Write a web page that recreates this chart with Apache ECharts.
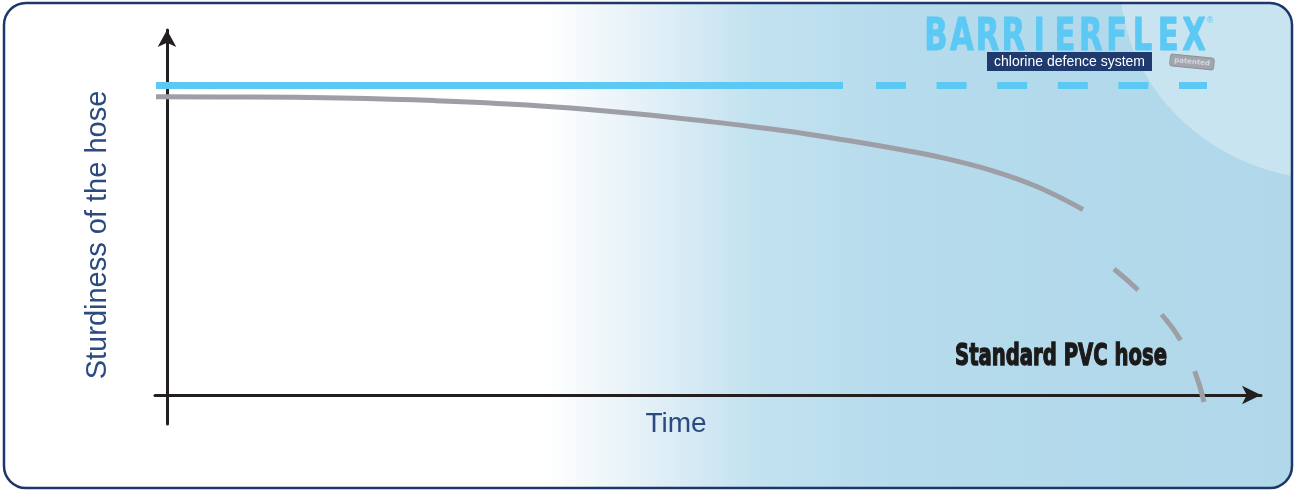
<!DOCTYPE html>
<html>
<head>
<meta charset="utf-8">
<script src="https://cdn.jsdelivr.net/npm/echarts@6/dist/echarts.min.js"></script>
<style>
html,body{margin:0;padding:0;background:#fff;}
#chart{width:1294px;height:490px;}
</style>
</head>
<body>
<div id="chart"></div>
<script>
// ---- data (arbitrary units: time on x, sturdiness on y) ----
const barrierSolidX = [-1.1, 67.6];
const barrierSolidY = [77.4, 77.4];
const barrierDashX = [70.9, 104.0];
const barrierDashY = [77.4, 77.4];

const pvcSolidX = [-1.1, 8.17, 17.44, 26.71, 35.98, 45.25, 54.52, 59.16, 63.79, 68.43, 73.06, 77.7, 82.33, 86.97, 91.6];
const pvcSolidY = [74.55, 74.5, 74.23, 73.6, 72.5, 70.68, 68.28, 66.88, 65.33, 63.5, 61.48, 59.23, 56.23, 52.13, 46.38];
const pvcDashX = [94.7, 97.1, 99.5, 101.4, 102.8, 103.7];
const pvcDashY = [31.5, 26.25, 20.0, 13.5, 5.75, -1.75];

const xAxisName = 'Time';
const yAxisName = 'Sturdiness of the hose';
const pvcLabel = 'Standard PVC hose';
const logoWord = 'BARRIERFLEX';
const logoTagline = 'chlorine defence system';
const stampText = 'patented';

const zip = (xs, ys) => xs.map((x, i) => [x, ys[i]]);

const chart = echarts.init(document.getElementById('chart'), null, {renderer: 'canvas'});

const logoLetters = logoWord.split('').map((ch, i) => ({
  type: 'text',
  x: 936 + i * 25.8,
  y: 38,
  scaleX: 0.68,
  z: 5,
  style: {
    text: ch, x: 0, y: 0,
    align: 'center', verticalAlign: 'middle',
    font: 'bold 45px "DejaVu Sans"',
    fill: '#5bc9f3', stroke: '#5bc9f3', lineWidth: 1
  }
}));

const option = {
  animation: false,
  grid: {left: 155, right: 33, top: 30, bottom: 66, containLabel: false, outerBoundsMode: 'none'},
  xAxis: {
    type: 'value', min: -1.2, max: 109.4,
    axisLine: {show: true, onZero: true, symbol: ['none', 'arrow'], symbolSize: [14, 19],
      lineStyle: {color: '#231f20', width: 3}},
    axisTick: {show: false}, axisLabel: {show: false}, splitLine: {show: false},
    name: xAxisName, nameLocation: 'middle', nameGap: -14,
    nameTextStyle: {fontSize: 28, color: '#2b4a7f', fontFamily: 'Liberation Sans', padding: [0, 64, 0, 0], verticalAlign: 'top'}
  },
  yAxis: {
    type: 'value', min: -7.25, max: 91.25,
    axisLine: {show: true, onZero: true, symbol: ['none', 'arrow'], symbolSize: [14, 17],
      lineStyle: {color: '#231f20', width: 3}},
    axisTick: {show: false}, axisLabel: {show: false}, splitLine: {show: false},
    name: yAxisName, nameLocation: 'middle', nameGap: 43,
    nameTextStyle: {fontSize: 29, color: '#2b4a7f', fontFamily: 'Liberation Sans', padding: [0, 16, 0, 0]}
  },
  graphic: [
    {
      type: 'rect', z: -10,
      shape: {x: 4, y: 3, width: 1288, height: 485, r: 22},
      style: {
        fill: new echarts.graphic.LinearGradient(0, 0, 1, 0, [
          {offset: 0, color: '#ffffff'},
          {offset: 0.42, color: '#ffffff'},
          {offset: 0.5, color: '#e3f0f7'},
          {offset: 0.58, color: '#c3e2f0'},
          {offset: 0.7, color: '#b5dbec'},
          {offset: 1, color: '#b0d8ea'}
        ])
      }
    },
    {
      type: 'ellipse', z: -9,
      shape: {cx: 1335, cy: -20, rx: 215, ry: 200},
      style: {fill: 'rgba(255,255,255,0.3)'}
    },
    {
      type: 'rect', z: -8,
      shape: {x: 4, y: 3, width: 1288, height: 485, r: 22},
      style: {fill: 'none', stroke: '#1d3769', lineWidth: 2.5}
    },
    ...logoLetters,
    {
      type: 'text', z: 5, x: 1210, y: 21,
      style: {text: '®', x: 0, y: 0, align: 'center', verticalAlign: 'middle', font: '8px "DejaVu Sans"', fill: '#5bc9f3'}
    },
    {
      type: 'rect', z: 5,
      shape: {x: 987, y: 52, width: 165, height: 19},
      style: {fill: '#1e3a6e'}
    },
    {
      type: 'text', z: 6, x: 1069.5, y: 62,
      style: {text: logoTagline, x: 0, y: 0, align: 'center', verticalAlign: 'middle',
        font: '14px "Liberation Sans"', fill: '#ffffff'}
    },
    {
      type: 'group', z: 5, x: 1192, y: 62, rotation: -0.1,
      children: [
        {type: 'rect', shape: {x: -22, y: -6, width: 44, height: 12, r: 3},
          style: {fill: '#a3a5ad', stroke: '#8e9099', lineWidth: 1}},
        {type: 'text', style: {text: stampText, x: 0, y: 0, align: 'center', verticalAlign: 'middle',
          font: 'bold 7px "DejaVu Sans"', fill: '#d6d8de'}}
      ]
    },
    {
      type: 'text', z: 5, x: 955, y: 357, scaleX: 0.655,
      style: {text: pvcLabel, x: 0, y: 0, align: 'left', verticalAlign: 'middle',
        font: 'bold 30px "DejaVu Sans"', fill: '#1b1a1a', stroke: '#1b1a1a', lineWidth: 1.4}
    }
  ],
  series: [
    {
      type: 'line', data: zip(barrierSolidX, barrierSolidY), showSymbol: false, silent: true,
      lineStyle: {color: '#5bc9f3', width: 7, cap: 'butt'}
    },
    {
      type: 'line', data: zip(barrierDashX, barrierDashY), showSymbol: false, silent: true,
      lineStyle: {color: '#5bc9f3', width: 7, cap: 'butt', type: [30, 30.6]}
    },
    {
      type: 'line', data: zip(pvcSolidX, pvcSolidY), showSymbol: false, silent: true,
      smooth: 0.4,
      lineStyle: {color: '#9d9ea6', width: 5, cap: 'butt'}
    },
    {
      type: 'line', data: zip(pvcDashX, pvcDashY), showSymbol: false, silent: true, smooth: true,
      lineStyle: {color: '#9d9ea6', width: 5, cap: 'butt', type: [32, 34]}
    }
  ]
};
chart.setOption(option);
</script>
</body>
</html>
